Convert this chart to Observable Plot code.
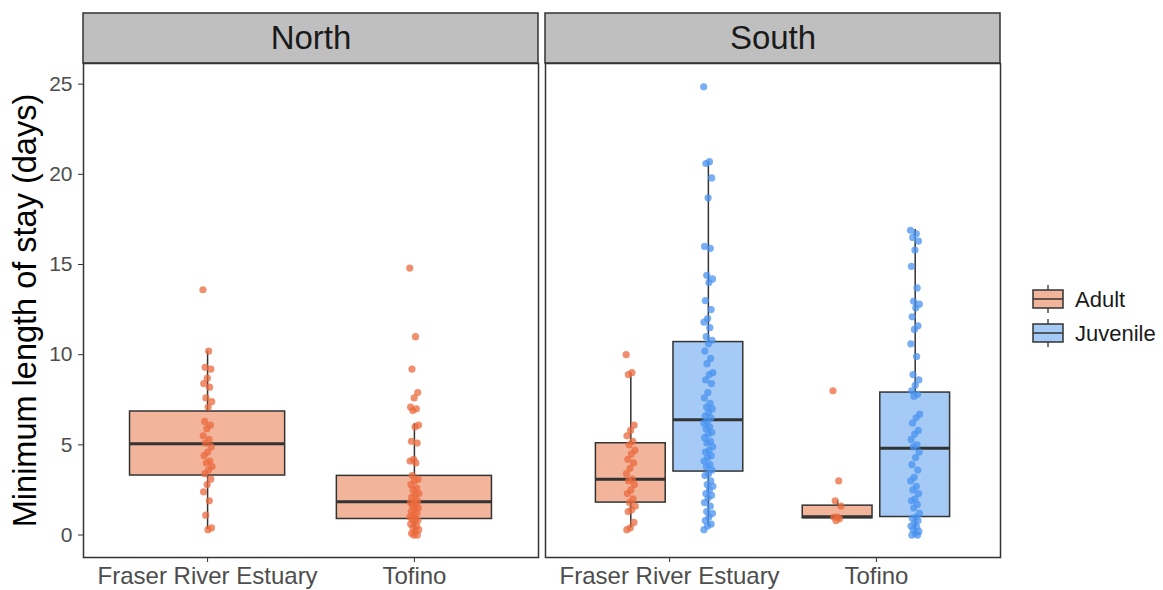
<!DOCTYPE html>
<html><head><meta charset="utf-8">
<script src="https://cdn.jsdelivr.net/npm/d3@7"></script>
<script src="https://cdn.jsdelivr.net/npm/@observablehq/plot@0.6"></script>
<style>
body{margin:0;background:#fff;font-family:"Liberation Sans",Arial,sans-serif;}
#wrap{position:relative;width:1163px;height:590px;overflow:hidden;}
#legend{position:absolute;left:1030px;top:280px;}
</style></head><body><div id="wrap"><div id="chart"></div><div id="legend"></div></div>
<script>
// ---- categories ----
const regions = ["North", "South"];
const locations = ["Fraser River Estuary", "Tofino"];
const ageClasses = ["Adult", "Juvenile"];
const yTicks = [0, 5, 10, 15, 20, 25];
const yTitle = "Minimum length of stay (days)";

// ---- box summary statistics ----
const boxRegion   = ["North", "North", "South", "South", "South", "South"];
const boxLocation = ["Fraser River Estuary", "Tofino", "Fraser River Estuary", "Fraser River Estuary", "Tofino", "Tofino"];
const boxAge      = ["Adult", "Adult", "Adult", "Juvenile", "Adult", "Juvenile"];
const boxLower    = [0.31, 0.0, 0.37, 0.46, 0.93, 0.0];
const boxQ1       = [3.30, 0.89, 1.80, 3.52, 0.93, 1.00];
const boxMedian   = [5.06, 1.85, 3.09, 6.39, 1.02, 4.81];
const boxQ3       = [6.85, 3.28, 5.09, 10.70, 1.63, 7.90];
const boxUpper    = [10.2, 6.17, 8.98, 20.7, 1.89, 16.94];

const northFraserAdult = [13.6, 10.2, 9.3, 9.2, 8.7, 8.4, 8.2, 7.6, 7.4, 7.1, 6.3, 6.1, 5.9, 5.5, 5.3, 5.1, 4.9, 4.6, 4.4, 4.1, 4.0, 3.8, 3.6, 3.4, 3.1, 2.8, 2.4, 1.9, 1.1, 0.4, 0.3];
const northTofinoAdult = [14.8, 11.0, 9.2, 7.9, 7.6, 7.1, 7.0, 6.9, 6.1, 6.0, 5.2, 5.1, 4.2, 4.1, 4.0, 3.3, 3.1, 3.0, 2.8, 2.6, 2.5, 2.3, 2.2, 2.1, 1.9, 1.8, 1.8, 1.7, 1.6, 1.5, 1.4, 1.3, 1.2, 1.1, 1.0, 0.9, 0.9, 0.8, 0.7, 0.6, 0.5, 0.4, 0.3, 0.2, 0.1, 0.0, 0.0];
const southFraserAdult = [10.0, 9.0, 8.9, 6.1, 5.8, 5.5, 5.2, 5.0, 4.7, 4.5, 4.2, 4.0, 3.7, 3.4, 3.1, 3.0, 2.8, 2.5, 2.3, 2.0, 1.8, 1.6, 1.4, 1.3, 0.7, 0.4, 0.3];
const southFraserJuvenile = [24.85, 20.7, 20.6, 19.8, 18.7, 16.0, 15.9, 14.4, 14.2, 14.0, 13.0, 12.5, 12.0, 11.8, 11.5, 11.0, 10.8, 10.6, 10.2, 9.8, 9.5, 9.0, 8.9, 8.6, 8.4, 7.9, 7.6, 7.3, 7.1, 7.0, 6.8, 6.6, 6.5, 6.3, 6.2, 6.0, 5.9, 5.7, 5.6, 5.4, 5.2, 5.1, 4.9, 4.7, 4.6, 4.4, 4.3, 4.1, 3.9, 3.8, 3.6, 3.4, 3.3, 3.0, 2.8, 2.7, 2.5, 2.3, 2.2, 2.05, 1.8, 1.6, 1.3, 1.2, 1.0, 0.8, 0.6, 0.5, 0.3];
const southTofinoAdult = [8.0, 3.0, 1.9, 1.6, 1.0, 1.0, 0.9, 0.8];
const southTofinoJuvenile = [16.9, 16.7, 16.5, 16.3, 15.8, 14.9, 13.7, 12.96, 12.8, 12.6, 12.1, 11.6, 11.4, 10.6, 9.9, 8.9, 8.6, 8.3, 8.0, 7.8, 7.7, 6.7, 6.5, 6.2, 5.8, 5.6, 5.3, 5.0, 4.9, 4.6, 4.3, 3.9, 3.6, 3.2, 3.0, 2.7, 2.5, 2.3, 2.0, 1.9, 1.7, 1.5, 1.2, 1.0, 0.93, 0.8, 0.65, 0.5, 0.46, 0.3, 0.2, 0.1, 0.0, 0.0];

// ---- styles ----
const boxFill = {Adult: "#F2B59B", Juvenile: "#A5CAF6"};
const dotFill = {Adult: "#EB6A3C", Juvenile: "#4A93F0"};
const ink = "#333333";

// ---- tables built from the arrays ----
const boxes = boxRegion.map((r, i) => ({
  region: r, location: boxLocation[i], age: boxAge[i],
  lower: boxLower[i], q1: boxQ1[i], median: boxMedian[i], q3: boxQ3[i], upper: boxUpper[i]
}));
const groups = [
  ["North", "Fraser River Estuary", "Adult", northFraserAdult],
  ["North", "Tofino", "Adult", northTofinoAdult],
  ["South", "Fraser River Estuary", "Adult", southFraserAdult],
  ["South", "Fraser River Estuary", "Juvenile", southFraserJuvenile],
  ["South", "Tofino", "Adult", southTofinoAdult],
  ["South", "Tofino", "Juvenile", southTofinoJuvenile]
];
const points = groups.flatMap(([region, location, age, vals]) =>
  vals.map((value, i) => ({region, location, age, value, i})));

// dodge (ggplot-style position_dodge2 with width 0.75)
const nGroups = d3.rollup(boxes, v => v.length, d => d.region, d => d.location);
function center(d) {
  const n = nGroups.get(d.region).get(d.location);
  const base = locations.indexOf(d.location) + 1;
  if (n === 1) return base;
  return base + (ageClasses.indexOf(d.age) - 0.5) * 0.375;
}
function halfWidth(d) {
  const n = nGroups.get(d.region).get(d.location);
  return n === 1 ? 0.375 : 0.375 / 2 * 0.9;
}
const jitter = d => (((d.i * 0.6180339887) % 1) - 0.5) * 0.045;

// ---- layout ----
const W = 1163, H = 590, mL = 83, mR = 163, mT = 63, mB = 33;
const frameH = H - mT - mB;

const chart = Plot.plot({
  width: W, height: H,
  marginLeft: mL, marginRight: mR, marginTop: mT, marginBottom: mB,
  style: {fontFamily: "'Liberation Sans', Arial, sans-serif", background: "white", overflow: "visible"},
  fx: {domain: regions, paddingInner: 0.0152, paddingOuter: 0, axis: null, label: null},
  x: {domain: [0.4, 2.6], axis: null},
  y: {domain: [-1.245, 26.145], axis: null},
  color: {type: "identity"},
  marks: [
    // facet strips
    Plot.rect(regions, {fx: d => d, fill: "#BFBFBF", stroke: ink, strokeWidth: 1.5, insetTop: -50, insetBottom: frameH}),
    Plot.text(regions, {fx: d => d, text: d => d, frameAnchor: "top", lineAnchor: "middle", dy: -25, fontSize: 33, fill: "#1A1A1A"}),
    // whiskers
    Plot.ruleX(boxes, {fx: "region", x: center, y1: "lower", y2: "q1", stroke: ink, strokeWidth: 1.5}),
    Plot.ruleX(boxes, {fx: "region", x: center, y1: "q3", y2: "upper", stroke: ink, strokeWidth: 1.5}),
    // boxes
    Plot.rect(boxes, {fx: "region", x1: d => center(d) - halfWidth(d), x2: d => center(d) + halfWidth(d),
      y1: "q1", y2: "q3", fill: d => boxFill[d.age], stroke: ink, strokeWidth: 1.5}),
    Plot.ruleY(boxes, {fx: "region", y: "median", x1: d => center(d) - halfWidth(d), x2: d => center(d) + halfWidth(d),
      stroke: ink, strokeWidth: 3}),
    // jittered points
    Plot.dot(points, {fx: "region", x: d => center(d) + jitter(d), y: "value", r: 3.6,
      fill: d => dotFill[d.age], fillOpacity: 0.75, stroke: "none"}),
    // panel borders
    Plot.frame({stroke: ink, strokeWidth: 1.5}),
    // axes
    Plot.axisY(yTicks, {anchor: "left", tickSize: 5, tickPadding: 6, fontSize: 21, color: "#4D4D4D", stroke: ink, label: null}),
    Plot.axisX([1, 2], {anchor: "bottom", tickSize: 5, tickPadding: 4, fontSize: 24, color: "#4D4D4D", stroke: ink,
      tickFormat: i => locations[i - 1], label: null}),
    // y title
    Plot.text([yTitle], {fx: () => regions[0], text: d => d, frameAnchor: "left", textAnchor: "middle",
      rotate: -90, dx: -58, fontSize: 32.5, fill: "#000"})
  ]
});
document.getElementById("chart").appendChild(chart);

// ---- legend ----
const lg = d3.select("#legend").append("svg").attr("width", 133).attr("height", 80)
  .style("font-family", "'Liberation Sans', Arial, sans-serif");
ageClasses.forEach((a, k) => {
  const g = lg.append("g").attr("transform", `translate(3,${10 + k * 34})`);
  g.append("line").attr("x1", 15).attr("x2", 15).attr("y1", -5).attr("y2", 23).attr("stroke", ink).attr("stroke-width", 1.3);
  g.append("rect").attr("x", 0).attr("y", 0).attr("width", 30).attr("height", 18)
    .attr("fill", boxFill[a]).attr("stroke", ink).attr("stroke-width", 1.5);
  g.append("line").attr("x1", 0).attr("x2", 30).attr("y1", 9).attr("y2", 9).attr("stroke", ink).attr("stroke-width", 1.5);
  g.append("text").attr("x", 42).attr("y", 9).attr("dy", "0.35em").attr("font-size", 22).attr("fill", "#1A1A1A").text(a);
});
</script></body></html>
